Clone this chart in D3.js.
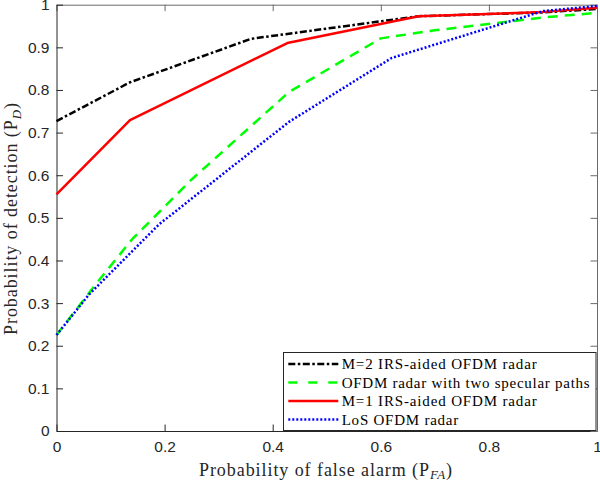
<!DOCTYPE html>
<html><head><meta charset="utf-8">
<script src="https://cdn.jsdelivr.net/npm/d3@7"></script>
<style>body{margin:0;background:#fff;} svg{display:block;}</style>
</head><body>
<svg id="c" width="600" height="482"></svg>
<script>
// ---- data ----
const xTicks = [0, 0.2, 0.4, 0.6, 0.8, 1];
const yTicks = [0, 0.1, 0.2, 0.3, 0.4, 0.5, 0.6, 0.7, 0.8, 0.9, 1];
const seriesNames = ["M=2 IRS-aided OFDM radar", "OFDM radar with two specular paths", "M=1 IRS-aided OFDM radar", "LoS OFDM radar"];
const m2X = [0, 0.136, 0.36, 0.67, 0.9, 1];
const m2Y = [0.727, 0.818, 0.92, 0.973, 0.982, 0.99];
const twoX = [0, 0.07, 0.14, 0.25, 0.43, 0.6, 0.7, 0.9, 1];
const twoY = [0.225, 0.34, 0.45, 0.59, 0.795, 0.921, 0.94, 0.97, 0.981];
const m1X = [0, 0.136, 0.427, 0.67, 0.89, 1];
const m1Y = [0.555, 0.729, 0.91, 0.973, 0.982, 0.993];
const losX = [0, 0.06, 0.19, 0.43, 0.62, 0.9, 1];
const losY = [0.225, 0.32, 0.485, 0.725, 0.875, 0.985, 0.997];

// ---- layout ----
const L = 56.5, R = 597, T = 4.7, B = 431;
const svg = d3.select("#c");
const x = d3.scaleLinear().domain([0, 1]).range([L, R]);
const y = d3.scaleLinear().domain([0, 1]).range([B, T]);
const axCol = "#262626";
const tickFont = "'Liberation Sans', Arial, Helvetica, sans-serif";
const serif = "'Liberation Serif', 'Times New Roman', serif";

// axes
const tl = 6.5;
const gB = svg.append("g").attr("transform", `translate(0,${B})`)
  .call(d3.axisBottom(x).tickValues(xTicks).tickFormat(d3.format("")).tickSizeInner(-tl).tickSizeOuter(0).tickPadding(14));
const gT = svg.append("g").attr("transform", `translate(0,${T})`)
  .call(d3.axisTop(x).tickValues(xTicks).tickFormat("").tickSizeInner(-tl).tickSizeOuter(0));
const gL = svg.append("g").attr("transform", `translate(${L},0)`)
  .call(d3.axisLeft(y).tickValues(yTicks).tickFormat(d3.format("")).tickSizeInner(-tl).tickSizeOuter(0).tickPadding(7));
const gR = svg.append("g").attr("transform", `translate(${R},0)`)
  .call(d3.axisRight(y).tickValues(yTicks).tickFormat("").tickSizeInner(-tl).tickSizeOuter(0));
[gB, gL].forEach(g => { g.select(".domain").attr("stroke", axCol); g.selectAll(".tick line").attr("stroke", axCol); });
[gT, gR].forEach(g => { g.select(".domain").attr("stroke", "#6a6a6a"); g.selectAll(".tick line").attr("stroke", "#6a6a6a"); });
[gB, gL].forEach(g => g.selectAll(".tick text").attr("fill", axCol).style("font-family", tickFont).style("font-size", "15.5px"));
gB.selectAll(".tick text").attr("dy", "0.45em");

// series
const series = [
  {xs: m2X, ys: m2Y, color: "#000000", dash: "7,2.5,2.5,2.5", w: 2.5},
  {xs: twoX, ys: twoY, color: "#00ff00", dash: "10,7", w: 2.5},
  {xs: m1X, ys: m1Y, color: "#ff0000", dash: null, w: 2.5},
  {xs: losX, ys: losY, color: "#0000ff", dash: "2,2", w: 2.5}
];
const line = d3.line().x(d => x(d[0])).y(d => y(d[1]));
series.forEach(s => {
  svg.append("path").datum(d3.zip(s.xs, s.ys)).attr("d", line)
    .attr("fill", "none").attr("stroke", s.color).attr("stroke-width", s.w)
    .attr("stroke-dasharray", s.dash).attr("stroke-linejoin", "round");
});

function fitWidth(t, target) {
  const w = t.node().getComputedTextLength();
  const n = t.text().length;
  t.attr("letter-spacing", ((target - w) / Math.max(1, n - 1)).toFixed(3) + "px");
}

// legend
const lg = {x0: 283.5, x1: 596, y0: 352.5, y1: 430.5};
svg.append("rect").attr("x", lg.x0).attr("y", lg.y0).attr("width", lg.x1 - lg.x0).attr("height", lg.y1 - lg.y0)
  .attr("fill", "#fff").attr("stroke", axCol).attr("stroke-width", 1);
const rowY = [364, 382.5, 401, 419.5];
const textW = [195, 248, 195, 116.6];
series.forEach((s, i) => {
  svg.append("line").attr("x1", 288.3).attr("x2", 338.3).attr("y1", rowY[i]).attr("y2", rowY[i])
    .attr("stroke", s.color).attr("stroke-width", s.w).attr("stroke-dasharray", i === 1 ? "9,11" : s.dash);
  const t = svg.append("text").attr("x", 341.7).attr("y", rowY[i] + 5)
    .attr("fill", "#000").style("font-family", serif).style("font-size", "15px").text(seriesNames[i]);
  fitWidth(t, textW[i]);
});

// axis labels
const xl = svg.append("text").attr("x", 199).attr("y", 475.5).attr("fill", axCol)
  .style("font-family", serif).style("font-size", "18px");
xl.append("tspan").text("Probability of false alarm (P");
xl.append("tspan").attr("font-style", "italic").attr("font-size", "13px").attr("dy", 3.5).text("FA");
xl.append("tspan").attr("dy", -3.5).text(")");
(function () {
  const w = xl.node().getComputedTextLength();
  xl.attr("letter-spacing", ((254 - w) / 32).toFixed(3) + "px");
})();

const yl = svg.append("text").attr("transform", "translate(17,335) rotate(-90)").attr("x", 0).attr("y", 0)
  .attr("fill", axCol).style("font-family", serif).style("font-size", "18px");
yl.append("tspan").text("Probability of detection (P");
yl.append("tspan").attr("font-style", "italic").attr("font-size", "13px").attr("dy", 3.5).text("D");
yl.append("tspan").attr("dy", -3.5).text(")");
(function () {
  const w = yl.node().getComputedTextLength();
  yl.attr("letter-spacing", ((233 - w) / 29).toFixed(3) + "px");
})();
</script>
</body></html>
